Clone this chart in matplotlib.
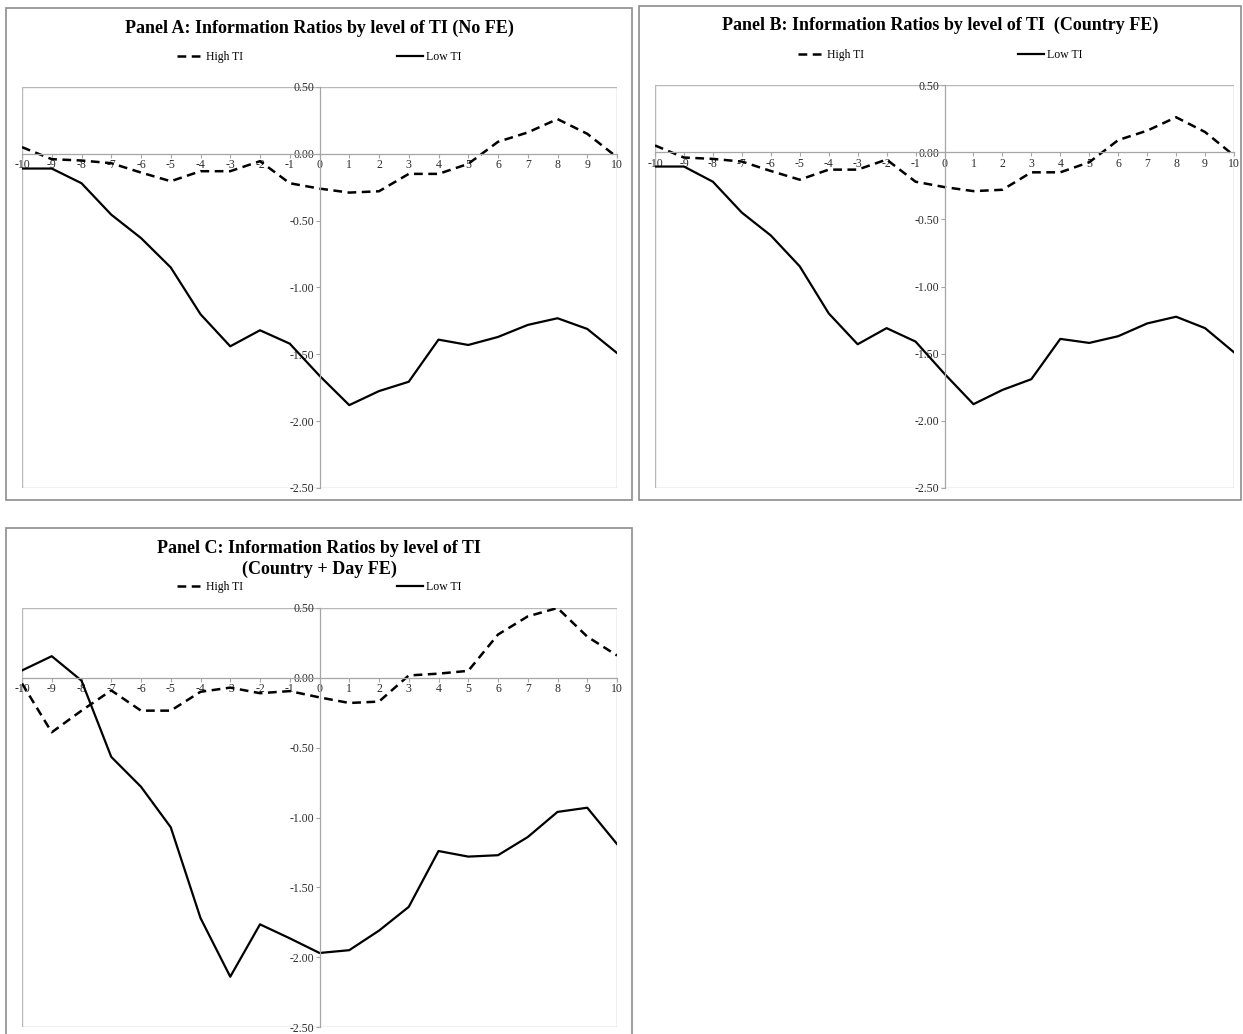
import matplotlib.pyplot as plt
from matplotlib.patches import Rectangle
from matplotlib.ticker import FormatStrFormatter

plt.rcParams['font.family'] = ['Liberation Serif', 'DejaVu Serif']
plt.rcParams['axes.unicode_minus'] = False

# event days
days = list(range(-10, 11))
y_ticks = [0.5, 0.0, -0.5, -1.0, -1.5, -2.0, -2.5]

# Panel A (No FE)
high_a = [0.05, -0.04, -0.05, -0.07, -0.14, -0.205, -0.13, -0.13, -0.055, -0.22, -0.26,
          -0.29, -0.28, -0.15, -0.15, -0.075, 0.09, 0.16, 0.26, 0.15, -0.025]
low_a = [-0.11, -0.11, -0.22, -0.455, -0.63, -0.85, -1.2, -1.44, -1.32, -1.42, -1.66,
         -1.88, -1.775, -1.705, -1.39, -1.43, -1.37, -1.28, -1.23, -1.31, -1.49]

# Panel B (Country FE)
high_b = [0.05, -0.04, -0.05, -0.07, -0.14, -0.205, -0.13, -0.13, -0.055, -0.22, -0.26,
          -0.29, -0.28, -0.15, -0.15, -0.075, 0.09, 0.16, 0.26, 0.15, -0.025]
low_b = [-0.107, -0.107, -0.22, -0.45, -0.62, -0.85, -1.2, -1.43, -1.31, -1.41, -1.65,
         -1.876, -1.77, -1.69, -1.39, -1.42, -1.37, -1.275, -1.225, -1.31, -1.49]

# Panel C (Country + Day FE)
high_c = [-0.04, -0.39, -0.235, -0.09, -0.235, -0.235, -0.10, -0.07, -0.11, -0.095, -0.14,
          -0.18, -0.17, 0.017, 0.03, 0.05, 0.31, 0.44, 0.50, 0.295, 0.16]
low_c = [0.053, 0.155, -0.02, -0.566, -0.78, -1.07, -1.72, -2.14, -1.765, -1.865, -1.97,
         -1.95, -1.81, -1.64, -1.24, -1.28, -1.27, -1.14, -0.96, -0.93, -1.19]

W, H = 1243, 1034
fig = plt.figure(figsize=(W / 100, H / 100), dpi=100)


def fbox(x0, y0, x1, y1):
    # pixel box (top-left origin) -> figure fraction rect
    return [x0 / W, 1 - y1 / H, (x1 - x0) / W, (y1 - y0) / H]


def panel(box, plot, title, title_y, legend_y, high, low):
    r = fbox(*box)
    fig.patches.append(Rectangle((r[0], r[1]), r[2], r[3], transform=fig.transFigure,
                                 fill=False, ec='#8c8c8c', lw=1.2))
    cx = r[0] + r[2] / 2
    fig.text(cx, 1 - title_y / H, title, ha='center', va='center',
             fontsize=13, fontweight='bold', linespacing=1.3)

    ax = fig.add_axes(fbox(*plot))
    ax.plot(days, high, color='black', lw=1.8, dashes=(3.5, 2.2), label='High TI')
    ax.plot(days, low, color='black', lw=1.6, label='Low TI')
    ax.set_xlim(-10, 10)
    ax.set_ylim(-2.5, 0.5)
    ax.set_xticks(days)
    ax.set_yticks(y_ticks)
    ax.xaxis.set_major_formatter(FormatStrFormatter('%d'))
    ax.yaxis.set_major_formatter(FormatStrFormatter('%.2f'))
    ax.spines['left'].set_position(('data', 0))
    ax.spines['bottom'].set_position(('data', 0))
    for s in ['left', 'bottom']:
        ax.spines[s].set_color('#a6a6a6')
        ax.spines[s].set_linewidth(0.9)
    for s in ['top', 'right']:
        ax.spines[s].set_visible(False)
    ax.add_patch(Rectangle((0, 0), 1, 1, transform=ax.transAxes, fill=False,
                           ec='#b8b8b8', lw=1.0, zorder=0))
    ax.tick_params(direction='out', length=3, width=0.8, color='#a6a6a6',
                   labelsize=8.5, labelcolor='#2b2b2b', pad=1)
    ax.patch.set_alpha(0)

    fig.legend(handles=ax.get_lines(), loc='center', bbox_to_anchor=(cx, 1 - legend_y / H),
               ncol=2, frameon=False, fontsize=8.5, handlelength=2.2,
               handletextpad=0.3, columnspacing=13)
    return ax


panel((6, 8, 632, 500), (22, 87, 617, 488),
      'Panel A: Information Ratios by level of TI (No FE)', 28, 57, high_a, low_a)
panel((639, 6, 1241, 500), (655, 85, 1234, 488),
      'Panel B: Information Ratios by level of TI  (Country FE)', 25, 55, high_b, low_b)
panel((6, 528, 632, 1040), (22, 608, 617, 1027),
      'Panel C: Information Ratios by level of TI\n(Country + Day FE)', 559, 587, high_c, low_c)

fig.savefig('out.png', dpi=100)
